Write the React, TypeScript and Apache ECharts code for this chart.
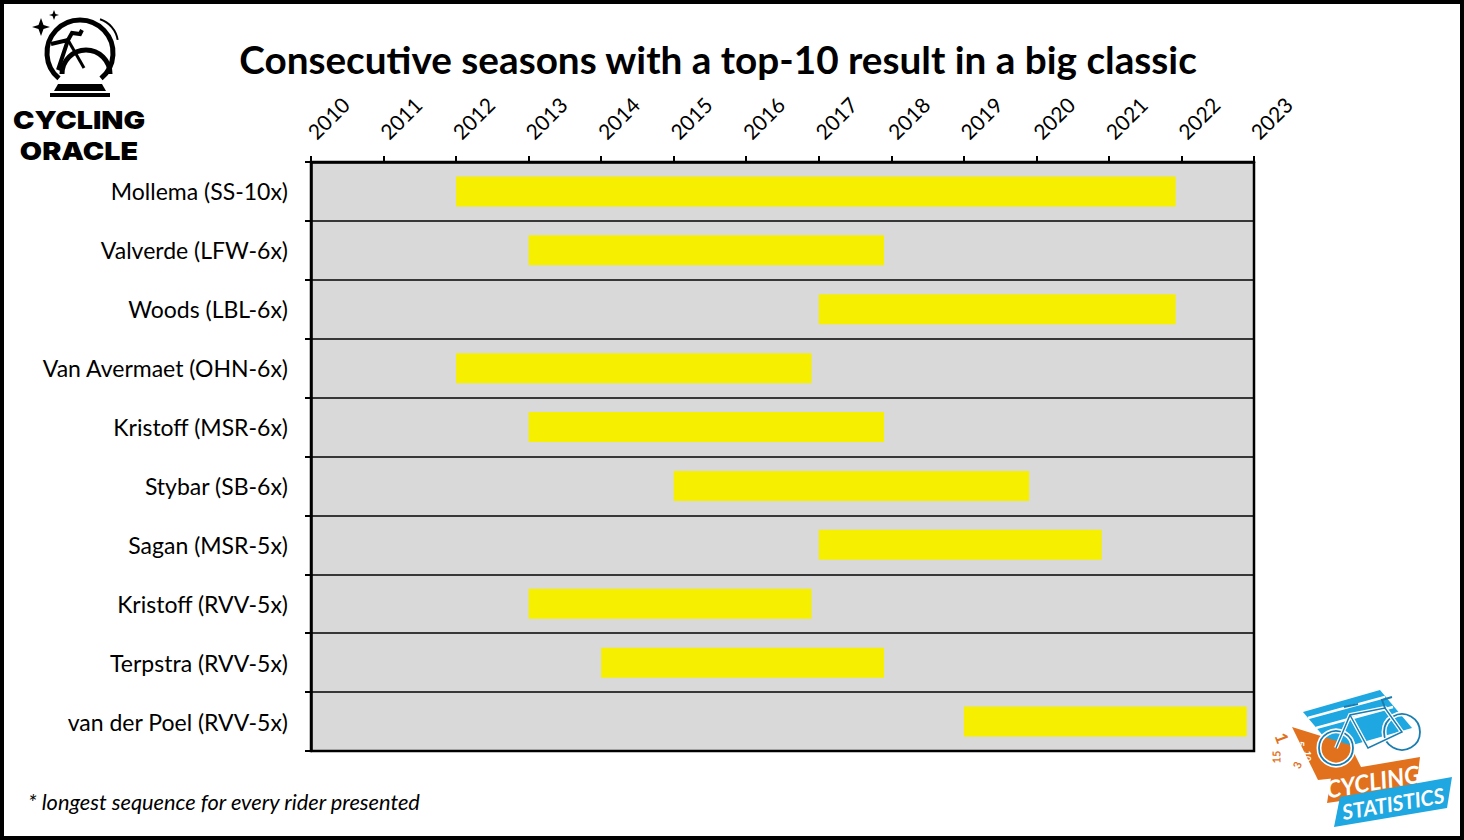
import React, { useEffect, useRef } from "react";
import * as echarts from "echarts";

const riders = [
  "Mollema (SS-10x)",
  "Valverde (LFW-6x)",
  "Woods (LBL-6x)",
  "Van Avermaet (OHN-6x)",
  "Kristoff (MSR-6x)",
  "Stybar (SB-6x)",
  "Sagan (MSR-5x)",
  "Kristoff (RVV-5x)",
  "Terpstra (RVV-5x)",
  "van der Poel (RVV-5x)",
];
const startSeason = [2012, 2013, 2017, 2012, 2013, 2015, 2017, 2013, 2014, 2019];
const endSeason = [2021.92, 2017.9, 2021.92, 2016.9, 2017.9, 2019.9, 2020.9, 2016.9, 2017.9, 2022.9];
const yearMin = 2010;
const yearMax = 2023;

const FONT = "Lato, 'Open Sans', sans-serif";
const YELLOW = "#f6ef00";
const ORANGE = "#e2711d";
const BLUE = "#1ea7e1";

export default function App() {
  const ref = useRef<HTMLDivElement>(null);
  useEffect(() => {
    document.body.style.margin = "0";
    const chart = echarts.init(ref.current!, null, { renderer: "svg" });
    const data = riders.map((_, i) => [i, startSeason[i], endSeason[i]]);
    chart.setOption({
      animation: false,
      backgroundColor: "#ffffff",
      textStyle: { fontFamily: FONT },
      grid: {
        left: 311,
        top: 162,
        width: 943,
        height: 589,
        show: true,
        backgroundColor: "#d9d9d9",
        borderColor: "#000",
        borderWidth: 2.5,
        containLabel: false,
      },
      xAxis: {
        type: "value",
        position: "top",
        min: yearMin,
        max: yearMax,
        interval: 1,
        axisLine: { show: true, lineStyle: { color: "#000", width: 2.5 } },
        axisTick: { show: true, length: 6, lineStyle: { color: "#000", width: 2 } },
        splitLine: { show: false },
        axisLabel: {
          rotate: -45,
          color: "#000",
          fontSize: 21,
          fontFamily: FONT,
          margin: 27,
          formatter: (v: number) => String(v),
        },
      },
      yAxis: {
        type: "category",
        data: riders,
        inverse: true,
        axisLine: { show: true, lineStyle: { color: "#000", width: 2.5 } },
        axisTick: { show: true, length: 6, lineStyle: { color: "#000", width: 2 } },
        splitLine: { show: true, lineStyle: { color: "#000", width: 1.6 } },
        axisLabel: { color: "#000", fontSize: 23, fontFamily: FONT, margin: 23 },
      },
      series: [
        {
          type: "custom",
          encode: { x: [1, 2], y: 0 },
          data,
          renderItem: (params: any, api: any) => {
            const cat = api.value(0);
            const s = api.coord([api.value(1), cat]);
            const e = api.coord([api.value(2), cat]);
            const h = api.size([0, 1])[1] * 0.51;
            return {
              type: "rect",
              shape: { x: s[0], y: s[1] - h / 2, width: e[0] - s[0], height: h },
              style: { fill: YELLOW },
            };
          },
        },
      ],
      graphic: [
        {
          type: "rect",
          shape: { x: 2, y: 2, width: 1460, height: 836 },
          style: { fill: "none", stroke: "#000", lineWidth: 4 },
          silent: true,
        },
        {
          type: "text",
          x: 718,
          y: 59,
          style: {
            text: "Consecutive seasons with a top-10 result in a big classic",
            fontFamily: FONT,
            fontWeight: "bold",
            fontSize: 38.7,
            fill: "#000",
            align: "center",
            verticalAlign: "middle",
          },
        },
        {
          type: "text",
          x: 28,
          y: 801,
          style: {
            text: "* longest sequence for every rider presented",
            fontFamily: FONT,
            fontStyle: "italic",
            fontSize: 21.8,
            fill: "#000",
            align: "left",
            verticalAlign: "middle",
          },
        },
        // Cycling Oracle logo
        {
          type: "group",
          children: [
            { type: "arc", shape: { cx: 80, cy: 53, r: 33, startAngle: Math.PI * 0.72, endAngle: Math.PI * 2.28 }, style: { fill: "none", stroke: "#000", lineWidth: 5 } },
            { type: "arc", shape: { cx: 92, cy: 44, r: 26, startAngle: Math.PI * 1.6, endAngle: Math.PI * 1.95 }, style: { fill: "none", stroke: "#000", lineWidth: 2 } },
            { type: "arc", shape: { cx: 86, cy: 74, r: 24, startAngle: Math.PI * 1.0, endAngle: Math.PI * 2.0 }, style: { fill: "none", stroke: "#000", lineWidth: 5 } },
            { type: "polyline", shape: { points: [[51, 44], [68, 40], [58, 70]] }, style: { fill: "none", stroke: "#000", lineWidth: 4 } },
            { type: "polyline", shape: { points: [[68, 40], [84, 68]] }, style: { fill: "none", stroke: "#000", lineWidth: 3 } },
            { type: "polyline", shape: { points: [[68, 40], [72, 33], [80, 34], [82, 30]] }, style: { fill: "none", stroke: "#000", lineWidth: 4 } },
            { type: "polygon", shape: { points: [[58, 84], [102, 84], [106, 91], [54, 91]] }, style: { fill: "#000" } },
            { type: "rect", shape: { x: 50, y: 93, width: 60, height: 4 }, style: { fill: "#000" } },
            { type: "polygon", shape: { points: [[41, 18], [43.5, 25], [50, 27], [43.5, 29], [41, 36], [38.5, 29], [32, 27], [38.5, 25]] }, style: { fill: "#000" } },
            { type: "polygon", shape: { points: [[54, 10], [55.5, 14], [59, 15], [55.5, 16], [54, 20], [52.5, 16], [49, 15], [52.5, 14]] }, style: { fill: "#000" } },
            {
              type: "text",
              x: 79,
              y: 120,
              scaleX: 1.15,
              style: {
                text: "CYCLING",
                fontFamily: "Inter, 'DejaVu Sans', sans-serif",
                fontWeight: 900,
                fontSize: 25,
                fill: "#000",
                align: "center",
                verticalAlign: "middle",
              },
            },
            {
              type: "text",
              x: 79,
              y: 151,
              scaleX: 1.15,
              style: {
                text: "ORACLE",
                fontFamily: "Inter, 'DejaVu Sans', sans-serif",
                fontWeight: 900,
                fontSize: 25,
                fill: "#000",
                align: "center",
                verticalAlign: "middle",
              },
            },
          ],
        },
        // Cycling Statistics logo
        {
          type: "group",
          children: [
            { type: "polygon", shape: { points: [[1303, 712], [1380, 690], [1412, 728], [1335, 750]] }, style: { fill: BLUE } },
            { type: "line", shape: { x1: 1308, y1: 718, x2: 1385, y2: 697 }, style: { stroke: "#fff", lineWidth: 2.5 } },
            { type: "line", shape: { x1: 1316, y1: 728, x2: 1393, y2: 707 }, style: { stroke: "#fff", lineWidth: 2.5 } },
            { type: "polygon", shape: { points: [[1292, 727], [1350, 745], [1365, 775], [1318, 780]] }, style: { fill: ORANGE } },
            { type: "polygon", shape: { points: [[1332, 772], [1420, 757], [1416, 790], [1327, 803]] }, style: { fill: ORANGE } },
            { type: "polygon", shape: { points: [[1340, 797], [1452, 777], [1447, 808], [1334, 827]] }, style: { fill: BLUE } },
            { type: "circle", shape: { cx: 1336, cy: 748, r: 17 }, style: { fill: "none", stroke: "#fff", lineWidth: 5 } },
            { type: "circle", shape: { cx: 1336, cy: 748, r: 17 }, style: { fill: "none", stroke: "#1a7db0", lineWidth: 1.8 } },
            { type: "circle", shape: { cx: 1402, cy: 732, r: 18 }, style: { fill: "none", stroke: "#fff", lineWidth: 5 } },
            { type: "circle", shape: { cx: 1402, cy: 732, r: 18 }, style: { fill: "none", stroke: "#1a7db0", lineWidth: 1.8 } },
            { type: "polyline", shape: { points: [[1336, 748], [1350, 715], [1385, 708], [1402, 732], [1368, 748], [1350, 715]] }, style: { fill: "none", stroke: "#fff", lineWidth: 4 } },
            { type: "polyline", shape: { points: [[1336, 748], [1350, 715], [1385, 708], [1402, 732], [1368, 748], [1350, 715]] }, style: { fill: "none", stroke: "#1a7db0", lineWidth: 1.5 } },
            { type: "polyline", shape: { points: [[1344, 707], [1358, 704]] }, style: { fill: "none", stroke: "#1a7db0", lineWidth: 2 } },
            { type: "polyline", shape: { points: [[1385, 708], [1382, 700], [1392, 697]] }, style: { fill: "none", stroke: "#1a7db0", lineWidth: 2 } },
            { type: "text", x: 1282, y: 738, rotation: -1.2, style: { text: "1", fontFamily: FONT, fontWeight: "bold", fontSize: 17, fill: ORANGE, align: "center", verticalAlign: "middle" } },
            { type: "text", x: 1276, y: 757, rotation: 1.57, style: { text: "15", fontFamily: FONT, fontWeight: "bold", fontSize: 11, fill: ORANGE, align: "center", verticalAlign: "middle" } },
            { type: "text", x: 1297, y: 765, rotation: 1.2, style: { text: "3", fontFamily: FONT, fontWeight: "bold", fontSize: 11, fill: ORANGE, align: "center", verticalAlign: "middle" } },
            { type: "text", x: 1301, y: 744, rotation: -1.57, style: { text: "5", fontFamily: FONT, fontWeight: "bold", fontSize: 10, fill: "#fff", align: "center", verticalAlign: "middle" } },
            { type: "text", x: 1308, y: 756, rotation: -1.57, style: { text: "10", fontFamily: FONT, fontWeight: "bold", fontSize: 9, fill: "#fff", align: "center", verticalAlign: "middle" } },
            {
              type: "text",
              x: 1373,
              y: 781,
              rotation: 0.17,
              style: { text: "CYCLING", fontFamily: FONT, fontStyle: "italic", fontWeight: "bold", fontSize: 24, fill: "#fff", align: "center", verticalAlign: "middle" },
            },
            {
              type: "text",
              x: 1393,
              y: 803,
              rotation: 0.17,
              style: { text: "STATISTICS", fontFamily: FONT, fontStyle: "italic", fontWeight: "bold", fontSize: 21, fill: "#fff", align: "center", verticalAlign: "middle" },
            },
          ],
        },
      ],
    });
    return () => chart.dispose();
  }, []);
  return (
    <div
      ref={ref}
      style={{ position: "absolute", left: 0, top: 0, width: 1464, height: 840 }}
    />
  );
}
